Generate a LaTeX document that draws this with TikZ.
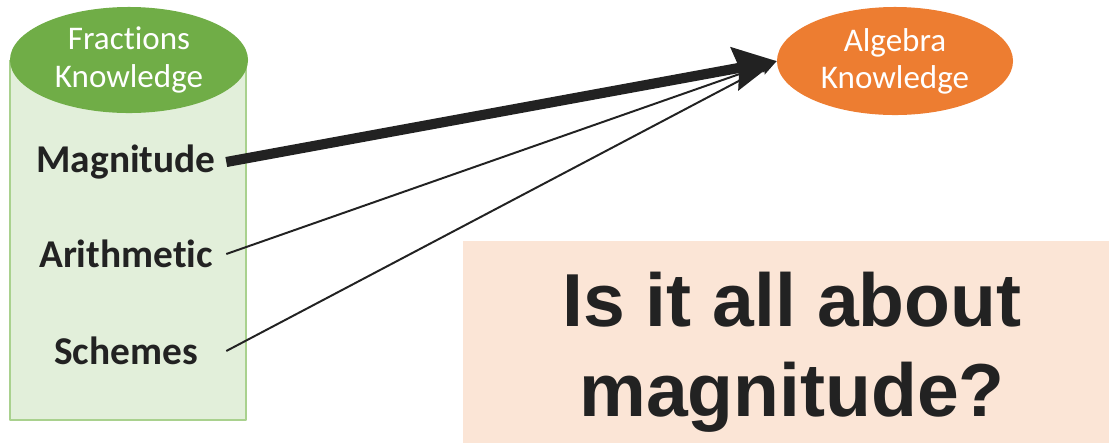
\documentclass[tikz,border=0pt]{standalone}
\usepackage{fontspec}
\setmainfont{Carlito}[Ligatures=NoCommon]
\newfontfamily\askfont{Liberation Sans}
\usetikzlibrary{shapes.geometric,arrows.meta}
\definecolor{fracgreen}{HTML}{70AD47}
\definecolor{fracpale}{HTML}{E2EFDA}
\definecolor{fracedge}{HTML}{A9D18E}
\definecolor{algorange}{HTML}{ED7D31}
\definecolor{askpink}{HTML}{FBE5D6}
\definecolor{inkdark}{HTML}{222222}

\begin{document}
\begin{tikzpicture}[x=0.025cm,y=-0.025cm,line join=round,
  topic/.style={ellipse,inner sep=0pt,minimum width=5.95cm,minimum height=2.65cm,
    text=white,align=center,font=\fontsize{23.5}{26.4}\selectfont},
  part/.style={text=inkdark,inner sep=0pt,minimum width=5cm,
    font=\bfseries\fontsize{28}{32}\selectfont},
  strong/.style={-{Stealth[length=30pt,width=30pt,inset=3pt]},line width=7.2pt,inkdark},
  weak/.style={-{Stealth[length=12pt,width=9pt,inset=2pt]},line width=1.4pt,inkdark}]
  \useasboundingbox (0,0) rectangle (1109,443);

  % Fractions knowledge as a cylinder
  \fill[fracpale] (10,60) rectangle (246,420);
  \draw[fracedge,line width=1.5pt] (10,60) -- (10,420) -- (246,420) -- (246,60);
  \node[topic,fill=fracgreen] (frac) at (129,60) {Fractions\\Knowledge};
  \node[part] (mag) at (126,162) {Magnitude};
  \node[part] (arith) at (126,254) {Arithmetic};
  \node[part] (scheme) at (126,351) {Schemes};

  % Algebra knowledge
  \node[topic,fill=algorange,minimum width=5.9cm,minimum height=2.7cm] (alg) at (895,61) {Algebra\\Knowledge};

  % Links
  \draw[weak] (arith.east) -- (alg.west);
  \draw[weak] (scheme.east) -- (alg.west);
  \draw[strong] (mag.east) -- (alg.west);

  % The question
  \node[fill=askpink,inner sep=0pt,minimum width=16.15cm,minimum height=5.05cm] (askbox) at (786,342) {};
  \node[inner sep=0pt,align=center,text=inkdark,font=\askfont\bfseries\fontsize{53.4}{64}\selectfont]
    (ask) at (792,352) {Is it all about\\magnitude?};
\end{tikzpicture}
\end{document}
